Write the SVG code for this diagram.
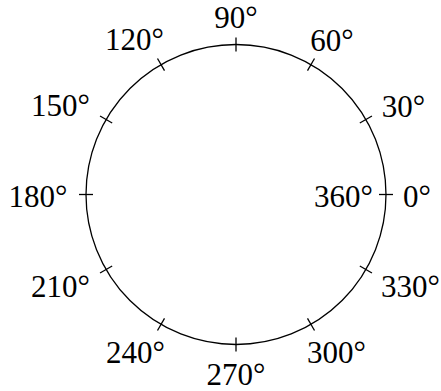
<svg xmlns="http://www.w3.org/2000/svg" width="441" height="391" viewBox="0 0 441 391">
<style>
.c{fill:none;stroke:#000;stroke-width:1.3}
.t{stroke:#000;stroke-width:1.3}
text{font-family:"Liberation Serif","DejaVu Serif",serif;font-size:31px;fill:#000;text-anchor:middle}
</style>
<rect width="441" height="391" fill="#fff"/>
<g id="circle"><circle class="c" cx="236" cy="194.5" r="150"/></g>
<g id="ticks">
<line class="t" x1="379" y1="194.5" x2="393" y2="194.5"/>
<line class="t" x1="359.84" y1="123" x2="371.96" y2="116"/>
<line class="t" x1="307.5" y1="70.66" x2="314.5" y2="58.54"/>
<line class="t" x1="236" y1="51.5" x2="236" y2="37.5"/>
<line class="t" x1="164.5" y1="70.66" x2="157.5" y2="58.54"/>
<line class="t" x1="112.16" y1="123" x2="100.04" y2="116"/>
<line class="t" x1="93" y1="194.5" x2="79" y2="194.5"/>
<line class="t" x1="112.16" y1="266" x2="100.04" y2="273"/>
<line class="t" x1="164.5" y1="318.34" x2="157.5" y2="330.46"/>
<line class="t" x1="236" y1="337.5" x2="236" y2="351.5"/>
<line class="t" x1="307.5" y1="318.34" x2="314.5" y2="330.46"/>
<line class="t" x1="359.84" y1="266" x2="371.96" y2="273"/>
</g>
<g id="labels">
<text x="236" y="28">90°</text>
<text x="332" y="51">60°</text>
<text x="403.5" y="117">30°</text>
<text x="417" y="207">0°</text>
<text x="343.5" y="207">360°</text>
<text x="410.5" y="297">330°</text>
<text x="336.5" y="363">300°</text>
<text x="236" y="385">270°</text>
<text x="135.5" y="363">240°</text>
<text x="60.5" y="297">210°</text>
<text x="38" y="207">180°</text>
<text x="60.5" y="116">150°</text>
<text x="134.5" y="50">120°</text>
</g>
</svg>
